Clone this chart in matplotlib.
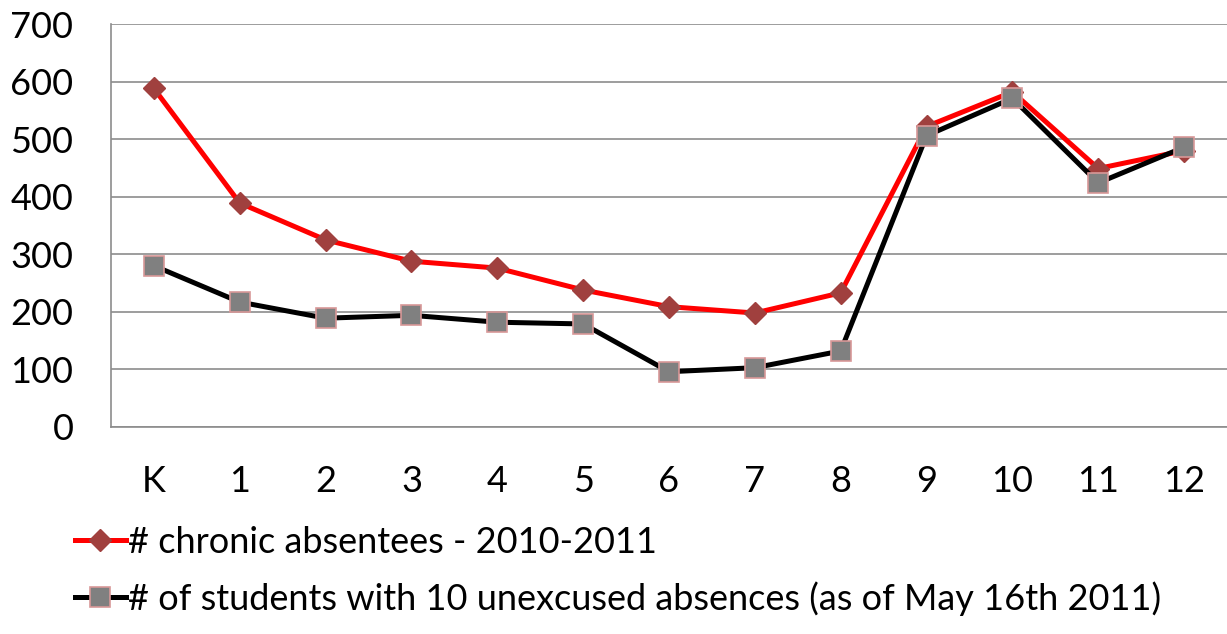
import matplotlib
matplotlib.use("Agg")
import matplotlib.pyplot as plt
from matplotlib.lines import Line2D

plt.rcParams['font.family'] = ['Lato', 'DejaVu Sans']

grades = ["K", "1", "2", "3", "4", "5", "6", "7", "8", "9", "10", "11", "12"]
chronic = [588, 389, 325, 288, 276, 238, 209, 198, 233, 522, 582, 449, 480]
unexcused = [280, 217, 189, 194, 182, 179, 96, 103, 132, 506, 571, 424, 486]
yticks = [0, 100, 200, 300, 400, 500, 600, 700]
label_chronic = "# chronic absentees - 2010-2011"
label_unexcused = "# of students with 10 unexcused absences (as of May 16th 2011)"

fs = 26

fig = plt.figure(figsize=(12.27, 6.34), dpi=100)
ax = fig.add_axes([111/1227, (634-427)/634, 1.0 - 111/1227, (427-24)/634])

x = list(range(len(grades)))
ax.plot(x, chronic, color='#FF0000', lw=3.6, marker='D', ms=11.5,
        mfc='#A0403E', mec='#A0403E', mew=1, zorder=3, solid_joinstyle='round')
ax.plot(x, unexcused, color='#000000', lw=3.6, marker='s', ms=14,
        mfc='#808080', mec='#D89898', mew=1.2, zorder=4, solid_joinstyle='round')

ax.set_xlim(-0.5, len(grades) - 0.5)
ax.set_ylim(0, 700)
ax.set_yticks(yticks)
ax.set_yticklabels([str(v) for v in yticks])
ax.set_xticks(x)
ax.set_xticklabels(grades)
ax.tick_params(axis='both', length=0, labelsize=fs, colors='black')
ax.tick_params(axis='y', pad=27)
ax.tick_params(axis='x', pad=27)
ax.yaxis.grid(True, color='#8C8C8C', lw=1.2)
ax.set_axisbelow(True)
for s in ['top', 'right']:
    ax.spines[s].set_visible(False)
ax.spines['left'].set_color('#8C8C8C')
ax.spines['bottom'].set_color('#8C8C8C')
ax.spines['left'].set_linewidth(1.2)
ax.spines['bottom'].set_linewidth(1.2)

h1 = Line2D([], [], color='#FF0000', lw=3.6, marker='D', ms=11.5, mfc='#A0403E', mec='#A0403E')
h2 = Line2D([], [], color='#000000', lw=3.6, marker='s', ms=14, mfc='#808080', mec='#D89898', mew=1.2)
fig.legend([h1, h2], [label_chronic, label_unexcused], loc='upper left',
           bbox_to_anchor=(57/1227, 1 - 508/634), frameon=False, fontsize=fs,
           handlelength=1.4, handletextpad=0.08, labelspacing=0.62, borderpad=0)

fig.savefig('out.png', dpi=100)
